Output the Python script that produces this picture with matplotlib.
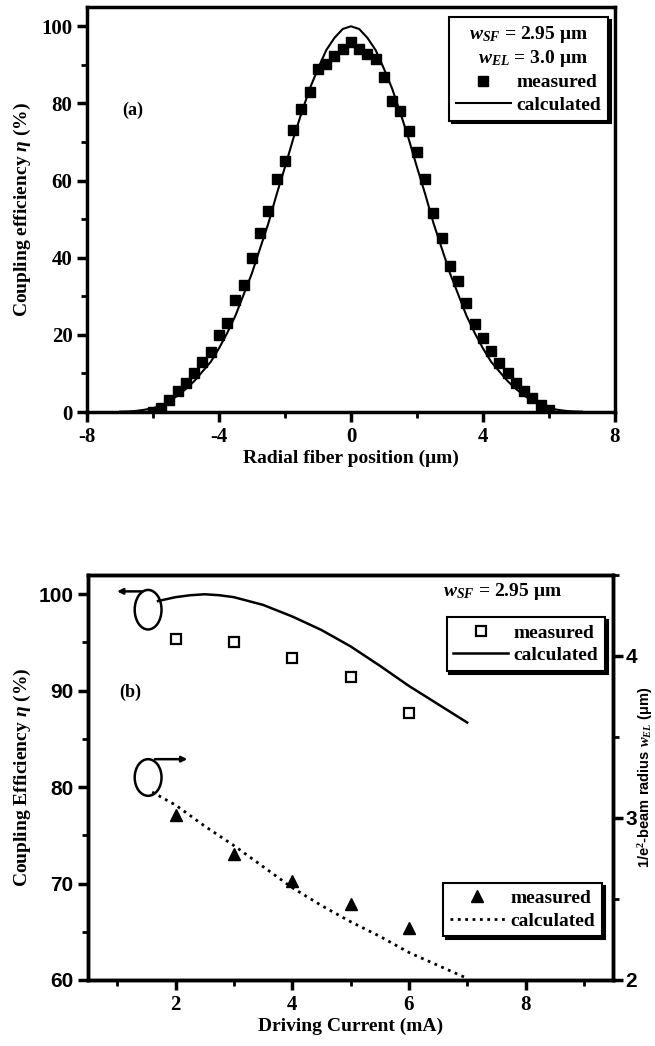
import matplotlib
matplotlib.use("Agg")
import matplotlib.pyplot as plt
from matplotlib.patches import Ellipse
from matplotlib.ticker import MultipleLocator

plt.rcParams['font.family'] = ['Liberation Serif', 'DejaVu Serif']
plt.rcParams['font.weight'] = 'bold'
plt.rcParams['axes.labelweight'] = 'bold'
plt.rcParams['axes.unicode_minus'] = False
plt.rcParams['mathtext.fontset'] = 'custom'
plt.rcParams['mathtext.rm'] = 'Liberation Serif:bold'
plt.rcParams['mathtext.it'] = 'Liberation Serif:italic:bold'
plt.rcParams['mathtext.bf'] = 'Liberation Serif:bold'

# (a) coupling efficiency vs radial fiber position
pos_meas = [-6.0, -5.75, -5.5, -5.25, -5.0, -4.75, -4.5, -4.25, -4.0, -3.75, -3.5, -3.25, -3.0,
            -2.75, -2.5, -2.25, -2.0, -1.75, -1.5, -1.25, -1.0, -0.75, -0.5, -0.25, 0.0,
            0.25, 0.5, 0.75, 1.0, 1.25, 1.5, 1.75, 2.0, 2.25, 2.5, 2.75, 3.0, 3.25, 3.5,
            3.75, 4.0, 4.25, 4.5, 4.75, 5.0, 5.25, 5.5, 5.75, 6.0]
eta_meas = [0.0, 1.0, 3.0, 5.5, 7.5, 10.0, 13.0, 15.5, 20.0, 23.0, 29.0, 33.0, 40.0,
            46.5, 52.0, 60.5, 65.0, 73.0, 78.5, 83.0, 89.0, 90.2, 92.4, 94.1, 95.8,
            94.1, 92.8, 91.5, 86.8, 80.7, 78.1, 72.9, 67.3, 60.3, 51.7, 45.2, 37.8, 33.9, 28.3,
            22.7, 19.2, 15.8, 12.7, 10.1, 7.5, 5.4, 3.6, 1.9, 0.6]
pos_calc = [-7.0, -6.75, -6.5, -6.25, -6.0, -5.75, -5.5, -5.25, -5.0, -4.75, -4.5, -4.25, -4.0,
            -3.75, -3.5, -3.25, -3.0, -2.75, -2.5, -2.25, -2.0, -1.75, -1.5, -1.25, -1.0,
            -0.75, -0.5, -0.25, 0.0, 0.25, 0.5, 0.75, 1.0, 1.25, 1.5, 1.75, 2.0, 2.25, 2.5,
            2.75, 3.0, 3.25, 3.5, 3.75, 4.0, 4.25, 4.5, 4.75, 5.0, 5.25, 5.5, 5.75, 6.0,
            6.25, 6.5, 6.75, 7.0]
eta_calc = [0.1, 0.15, 0.3, 0.6, 1.0, 1.7, 2.8, 4.3, 6.0, 8.0, 10.5, 13.0, 16.5,
            20.5, 25.0, 30.5, 36.0, 42.5, 49.0, 56.5, 63.5, 70.8, 77.5, 83.8, 89.0,
            93.8, 97.0, 99.3, 100.0, 99.3, 97.0, 93.8, 89.0, 83.8, 77.5, 70.8, 63.5, 56.5, 49.0,
            42.5, 36.0, 30.5, 25.0, 20.5, 16.5, 13.0, 10.5, 8.0, 6.0, 4.3, 2.8, 1.7, 1.0,
            0.6, 0.3, 0.15, 0.1]

# (b) vs driving current
cur_meas = [2, 3, 4, 5, 6]
eff_meas = [95.4, 95.0, 93.4, 91.4, 87.7]
rad_meas = [3.02, 2.775, 2.61, 2.47, 2.32]
cur_calc = [1.7, 2.0, 2.25, 2.5, 2.75, 3.0, 3.5, 4.0, 4.5, 5.0, 5.5, 6.0, 6.5, 7.0]
eff_calc = [99.3, 99.7, 99.9, 100.0, 99.9, 99.7, 98.9, 97.7, 96.3, 94.6, 92.6, 90.5, 88.6, 86.7]
cur_rcalc = [1.6, 2.0, 2.5, 3.0, 3.5, 4.0, 4.5, 5.0, 5.5, 6.0, 6.5, 7.0]
rad_calc = [3.16, 3.08, 2.95, 2.83, 2.70, 2.57, 2.46, 2.36, 2.27, 2.17, 2.09, 2.01]

fig = plt.figure(figsize=(6.55, 10.46), dpi=100)
ax = fig.add_axes([0.1328, 0.6061, 0.806, 0.3872])
axb = fig.add_axes([0.1344, 0.0631, 0.8015, 0.3872])


def style(a):
    for s in a.spines.values():
        s.set_linewidth(2.5)
    a.tick_params(which='major', direction='out', length=7, width=2.5, labelsize=15)
    a.tick_params(which='minor', direction='out', length=4, width=2)
    a.tick_params(top=False, right=False, which='both')


def box_legend(a, anchor, **kw):
    h, l = a.get_legend_handles_labels()
    lg = a.legend(h[::-1], l[::-1], loc='upper right', bbox_to_anchor=anchor,
                  borderaxespad=0, fontsize=14, handlelength=2.8, handletextpad=0.3,
                  labelspacing=0.25, fancybox=False, edgecolor='k', framealpha=1,
                  shadow={'color': 'k', 'alpha': 1}, borderpad=0.35, **kw)
    lg.get_frame().set_linewidth(1.5)
    return lg


ax.plot(pos_calc, eta_calc, '-', color='k', lw=1.5, label='calculated')
ax.plot(pos_meas, eta_meas, 's', color='k', ms=6.5, label='measured', zorder=3)
ax.set_xlim(-8, 8)
ax.set_ylim(0, 105)
ax.xaxis.set_major_locator(MultipleLocator(4))
ax.xaxis.set_minor_locator(MultipleLocator(2))
ax.yaxis.set_major_locator(MultipleLocator(20))
ax.yaxis.set_minor_locator(MultipleLocator(10))
style(ax)
ax.set_xlabel('Radial fiber position (μm)', fontsize=14, labelpad=2)
ax.set_ylabel('Coupling efficiency $\\eta$ (%)', fontsize=14, labelpad=6)
ax.text(0.087, 0.746, '(a)', transform=ax.transAxes, fontsize=13, ha='center', va='center')
leg = box_legend(ax, (0.987, 0.975), title='$w_{SF}$ = 2.95 μm\n$w_{EL}$ = 3.0 μm',
                 title_fontsize=14)
leg.get_title().set_multialignment('right')

axb.plot(cur_calc, eff_calc, '-', color='k', lw=1.8, label='calculated')
axb.plot(cur_meas, eff_meas, 's', mfc='white', mec='k', mew=1.6, ms=7, label='measured')
axb.set_xlim(0.5, 9.5)
axb.set_ylim(60, 102)
axb.xaxis.set_major_locator(MultipleLocator(2))
axb.xaxis.set_minor_locator(MultipleLocator(1))
axb.yaxis.set_major_locator(MultipleLocator(10))
axb.yaxis.set_minor_locator(MultipleLocator(5))
style(axb)
for t in axb.get_yticklabels():
    t.set_family(['Liberation Sans', 'DejaVu Sans'])
axb.set_xlabel('Driving Current (mA)', fontsize=14, labelpad=2)
axb.set_ylabel('Coupling Efficiency $\\eta$ (%)', fontsize=14, labelpad=4)
axb.text(0.08, 0.711, '(b)', transform=axb.transAxes, fontsize=13, ha='center', va='center')
axb.text(0.789, 0.958, '$w_{SF}$ = 2.95 μm', transform=axb.transAxes, fontsize=14,
         ha='center', va='center')
axb.add_patch(Ellipse((1.53, 98.4), 0.46, 4.1, fill=False, ec='k', lw=1.8))
axb.add_patch(Ellipse((1.53, 81.0), 0.46, 3.8, fill=False, ec='k', lw=1.8))
axb.annotate('', xy=(0.95, 100.3), xytext=(1.48, 100.3),
             arrowprops=dict(arrowstyle='-|>', lw=1.8, color='k', mutation_scale=8))
axb.annotate('', xy=(2.25, 82.9), xytext=(1.6, 82.9),
             arrowprops=dict(arrowstyle='-|>', lw=1.8, color='k', mutation_scale=8))
box_legend(axb, (0.985, 0.896))

ax2 = axb.twinx()
ax2.plot(cur_rcalc, rad_calc, ':', color='k', lw=2, label='calculated')
ax2.plot(cur_meas, rad_meas, '^', color='k', ms=9, label='measured')
ax2.set_ylim(2, 4.5)
ax2.yaxis.set_major_locator(MultipleLocator(1))
ax2.yaxis.set_minor_locator(MultipleLocator(0.5))
for s in ax2.spines.values():
    s.set_linewidth(2.5)
ax2.tick_params(which='major', direction='out', length=7, width=2.5, labelsize=15, pad=2)
ax2.tick_params(which='minor', direction='out', length=4, width=2)
for t in ax2.get_yticklabels():
    t.set_family(['Liberation Sans', 'DejaVu Sans'])
ax2.set_ylabel('1/e$^2$-beam radius $w_{EL}$ (μm)', fontsize=10.5,
               family=['Liberation Sans', 'DejaVu Sans'], labelpad=-1)
box_legend(ax2, (0.979, 0.24))

fig.savefig('out.png', dpi=100)
